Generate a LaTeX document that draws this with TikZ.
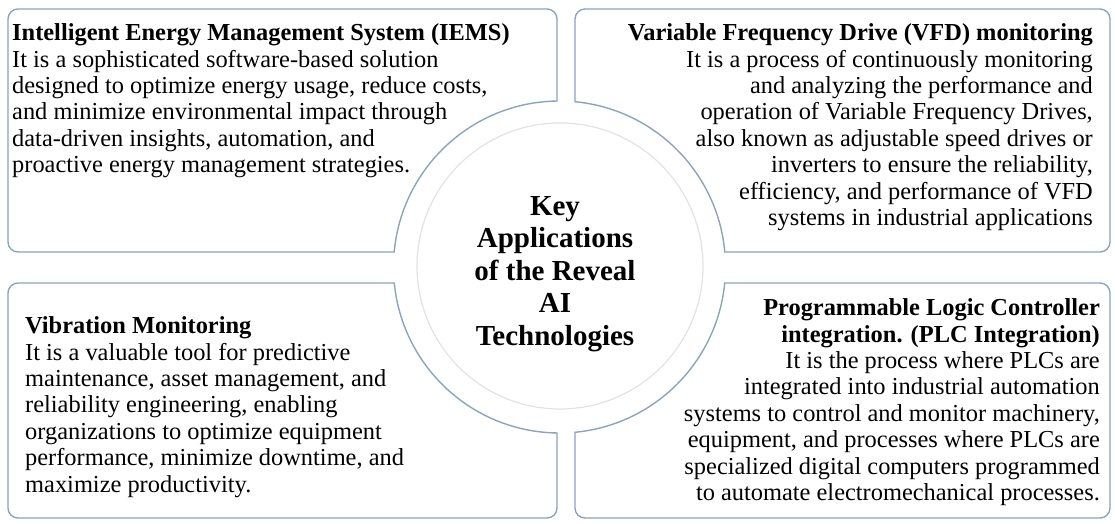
\documentclass[tikz,border=0pt]{standalone}
\usepackage{fontspec}
\setmainfont{Liberation Serif}
\usetikzlibrary{calc}
\definecolor{rimblue}{RGB}{140,163,188}
\definecolor{ringgray}{RGB}{226,226,226}

\begin{document}
\begin{tikzpicture}[x=1pt,y=1pt,
  panel/.style={draw=rimblue,line width=1.4pt},
  body/.style={inner sep=0pt,font=\fontsize{24.4}{26.4}\selectfont},
  hub/.style={inner sep=0pt,align=center,font=\fontsize{29}{32.5}\selectfont\bfseries}]
\useasboundingbox (0,0) rectangle (1115,523);
\coordinate (C) at (559.5,256);
\draw[panel] ($(C)+(90.86:166)$) [rounded corners=10pt] -- (557,514) -- (8,514) -- (8,271) [sharp corners] -- ($(C)+(174.82:166)$) arc[start angle=174.82,end angle=90.86,radius=166] -- cycle;
\draw[panel] ($(C)+(84.64:166)$) [rounded corners=10pt] -- (575,514) -- (1110,514) -- (1110,271) [sharp corners] -- ($(C)+(5.18:166)$) arc[start angle=5.18,end angle=84.64,radius=166] -- cycle;
\draw[panel] ($(C)+(269.14:166)$) [rounded corners=10pt] -- (557,5) -- (8,5) -- (8,240) [sharp corners] -- ($(C)+(185.53:166)$) arc[start angle=185.53,end angle=269.14,radius=166] -- cycle;
\draw[panel] ($(C)+(275.36:166)$) [rounded corners=10pt] -- (575,5) -- (1110,5) -- (1110,240) [sharp corners] -- ($(C)+(354.47:166)$) arc[start angle=354.47,end angle=275.36,radius=166] -- cycle;
\draw[ringgray,line width=1.2pt] (560,257) circle[radius=143];
\node[hub] (hubtext) at (555,249) {Key\\Applications\\of the Reveal\\AI\\Technologies};
\node[body,anchor=north west,align=left] (iems) at (12,499.5) {\textbf{Intelligent Energy Management System (IEMS)}\\It is a sophisticated software-based solution\\designed to optimize energy usage, reduce costs,\\and minimize environmental impact through\\data-driven insights, automation, and\\proactive energy management strategies.};
\node[body,anchor=north east,align=right] (vfd) at (1093,499.5) {\textbf{Variable Frequency Drive (VFD) monitoring}\\It is a process of continuously monitoring\\and analyzing the performance and\\operation of Variable Frequency Drives,\\also known as adjustable speed drives or\\inverters to ensure the reliability,\\efficiency, and performance of VFD\\systems in industrial applications};
\node[body,anchor=north west,align=left] (vibr) at (25,206.5) {\textbf{Vibration Monitoring}\\It is a valuable tool for predictive\\maintenance, asset management, and\\reliability engineering, enabling\\organizations to optimize equipment\\performance, minimize downtime, and\\maximize productivity.};
\node[body,anchor=north east,align=right] (plc) at (1100,224.5) {\textbf{Programmable Logic Controller}\\\textbf{integration. (PLC Integration)}\\It is the process where PLCs are\\integrated into industrial automation\\systems to control and monitor machinery,\\equipment, and processes where PLCs are\\specialized digital computers programmed\\to automate electromechanical processes.};
\end{tikzpicture}
\end{document}
